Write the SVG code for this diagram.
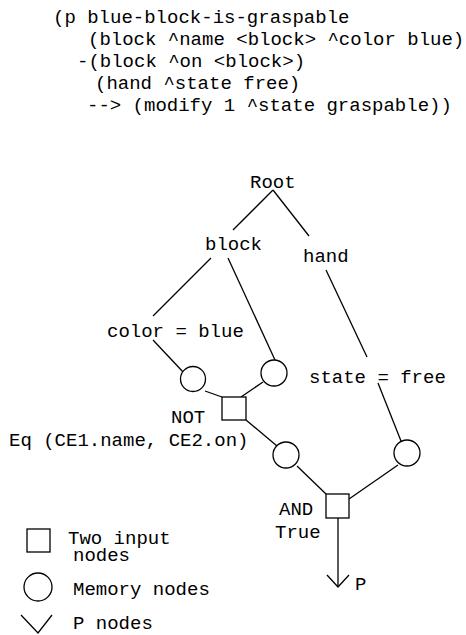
<svg xmlns="http://www.w3.org/2000/svg" width="466" height="635" viewBox="0 0 466 635">
  <style>
    text { font-family: "Liberation Mono", "Courier New", monospace; font-size: 19px; fill: #000; }
    .ln { stroke: #000; stroke-width: 1.3; fill: none; }
    .nd { stroke: #000; stroke-width: 1.3; fill: #fff; }
  </style>
  <rect width="466" height="635" fill="#fff"/>

  <!-- OPS5 production -->
  <g id="production">
    <text x="53" y="23">(p blue-block-is-graspable</text>
    <text x="88" y="45">(block ^name &lt;block&gt; ^color blue)</text>
    <text x="77" y="67">-(block ^on &lt;block&gt;)</text>
    <text x="95" y="89">(hand ^state free)</text>
    <text x="87" y="111">--&gt; (modify 1 ^state graspable))</text>
  </g>

  <!-- connectors -->
  <g id="connectors" class="ln">
    <line x1="273" y1="190" x2="233" y2="230"/>
    <line x1="273" y1="190" x2="309" y2="236"/>
    <line x1="211" y1="258" x2="153" y2="316"/>
    <line x1="228" y1="258" x2="275" y2="360"/>
    <line x1="326" y1="270" x2="367" y2="357"/>
    <line x1="153" y1="340" x2="184" y2="373"/>
    <line x1="205" y1="391" x2="222" y2="397"/>
    <line x1="263" y1="382" x2="241" y2="397"/>
    <line x1="378" y1="383" x2="401" y2="441"/>
    <line x1="246" y1="420" x2="277" y2="446"/>
    <line x1="297" y1="466" x2="326" y2="494"/>
    <line x1="398" y1="465" x2="349" y2="499"/>
    <line x1="338" y1="518" x2="338" y2="587"/>
    <polyline points="327,575 338,587 349,575"/>
  </g>

  <!-- discrimination nodes -->
  <g id="root"><text x="250" y="188">Root</text></g>
  <g id="block"><text x="205" y="250">block</text></g>
  <g id="hand"><text x="303" y="262">hand</text></g>
  <g id="color-blue"><text x="107" y="337">color = blue</text></g>
  <g id="state-free"><text x="309" y="383">state = free</text></g>

  <!-- memory nodes -->
  <g id="mem-color"><circle class="nd" cx="193" cy="379" r="12.5"/></g>
  <g id="mem-on"><circle class="nd" cx="274" cy="373" r="13"/></g>
  <g id="mem-not"><circle class="nd" cx="286" cy="455" r="13"/></g>
  <g id="mem-state"><circle class="nd" cx="407" cy="453" r="13"/></g>

  <!-- two input nodes -->
  <g id="not-node">
    <rect class="nd" x="222" y="397" width="24" height="23"/>
    <text x="171" y="423">NOT</text>
    <text x="9" y="446">Eq (CE1.name, CE2.on)</text>
  </g>
  <g id="and-node">
    <rect class="nd" x="326" y="494" width="23" height="24"/>
    <text x="279" y="515">AND</text>
    <text x="275" y="538">True</text>
  </g>

  <!-- production node -->
  <g id="p-node"><text x="355" y="590">P</text></g>

  <!-- legend -->
  <g id="legend">
    <rect class="nd" x="27" y="529" width="23" height="23"/>
    <text x="68" y="544">Two input</text>
    <text x="73" y="561">nodes</text>
    <circle class="nd" cx="38" cy="587" r="14"/>
    <text x="73" y="595">Memory nodes</text>
    <polyline class="ln" points="21,615 38,633 52,615"/>
    <text x="73" y="629">P nodes</text>
  </g>
</svg>
